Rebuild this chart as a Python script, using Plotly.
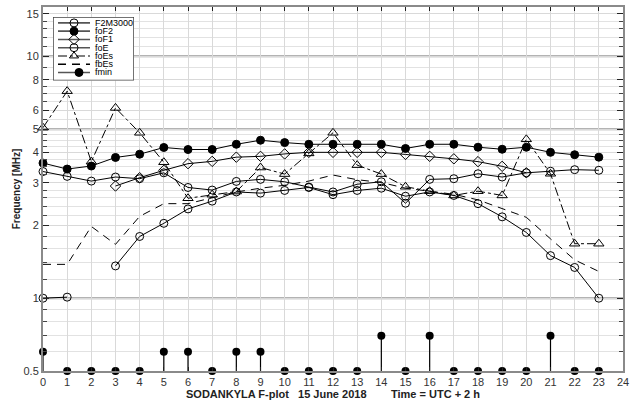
import math
import plotly.graph_objects as go

hours = list(range(24))

F2M3000 = [3.34, 3.19, 3.05, 3.17, 3.12, 3.30, 2.87, 2.80, 3.04, 3.10, 3.03, 2.88,
           2.75, 2.96, 3.03, 2.47, 3.10, 3.12, 3.27, 3.17, 3.30, 3.35, 3.40, 3.38]
foF2 = [3.62, 3.42, 3.52, 3.82, 3.94, 4.20, 4.12, 4.12, 4.33, 4.50, 4.40, 4.33,
        4.33, 4.33, 4.33, 4.16, 4.33, 4.33, 4.21, 4.13, 4.21, 4.01, 3.92, 3.83]
foF1 = [None, None, None, 2.91, 3.15, 3.38, 3.60, 3.68, 3.83, 3.86, 3.95, 4.01,
        4.01, 4.01, 4.01, 3.93, 3.86, 3.77, 3.67, 3.51, 3.30, None, None, None]
foE = [1.00, 1.01, None, 1.36, 1.80, 2.04, 2.34, 2.52, 2.75, 2.72, 2.79, 2.87,
       2.68, 2.79, 2.85, 2.64, 2.75, 2.66, 2.46, 2.17, 1.87, 1.50, 1.34, 1.00]
foEs = [5.07, 7.18, 3.67, 6.12, 4.83, 3.65, 2.59, 2.68, 2.76, 3.47, 3.26, 3.97,
        4.83, 3.55, 3.26, 2.89, 2.77, 2.66, 2.77, 2.66, 4.54, 3.27, 1.68, 1.68]
fbEs = [1.38, 1.38, 1.98, 1.67, 2.18, 2.46, 2.46, 2.60, 2.75, 2.85, 2.93, 3.05,
        3.23, 3.09, 3.01, 2.85, 2.77, 2.69, 2.55, 2.35, 2.16, 1.76, 1.44, 1.29]
fmin = [0.6, 0.5, 0.5, 0.5, 0.5, 0.6, 0.6, 0.5, 0.6, 0.6, 0.5, 0.5,
        0.5, 0.5, 0.7, 0.5, 0.7, 0.5, 0.5, 0.5, 0.5, 0.7, 0.5, 0.5]

x_ticks = list(range(25))
y_ticks = [0.5, 1, 2, 3, 4, 5, 6, 8, 10, 15]
y_minor = [0.6, 0.7, 0.8, 0.9, 1.2, 1.4, 1.6, 1.8, 2.2, 2.4, 2.6, 2.8,
           3.25, 3.5, 3.75, 4.25, 4.5, 4.75, 5.5, 6.5, 7, 7.5, 9, 11, 12, 13, 14]
y_strong = [1, 5, 10]
y_min, y_max = 0.5, 16
fmin_base = 0.5

FONT = "Liberation Sans, Arial, sans-serif"

series = [
    ("F2M3000", F2M3000, "solid", "circle-open"),
    ("foF2", foF2, "solid", "circle"),
    ("foF1", foF1, "solid", "diamond-open"),
    ("foE", foE, "solid", "circle-open"),
    ("foEs", foEs, "dashdot", "triangle-up-open"),
    ("fbEs", fbEs, "dash", None),
]

fig = go.Figure()

for name, vals, dash, sym in series:
    fig.add_trace(go.Scatter(
        x=hours, y=vals, name=name,
        mode="lines+markers" if sym else "lines",
        line=dict(color="black", width=1, dash=dash if dash != "dash" else "8px,6px"),
        marker=dict(symbol=sym or "circle", size=8 if sym != "triangle-up-open" else 9,
                    color="black", line=dict(width=1, color="black")),
        cliponaxis=False, showlegend=False, xaxis="x", yaxis="y",
    ))

fig.add_trace(go.Scatter(
    x=hours, y=fmin, name="fmin", mode="markers",
    marker=dict(symbol="circle", size=8, color="black"),
    error_y=dict(type="data", symmetric=False, array=[0] * len(fmin),
                 arrayminus=[v - fmin_base for v in fmin], width=0,
                 thickness=1.2, color="black"),
    cliponaxis=False, showlegend=False,
))

# Compact legend drawn on an auxiliary axis (pixel-like units) inside the box
legend_items = [(s[0], s[2], s[3]) for s in series] + [("fmin", "solid", "circle")]
row0, row_step = 21, 8.3
for i, (name, dash, sym) in enumerate(legend_items):
    ry = row0 + i * row_step
    fig.add_trace(go.Scatter(
        x=[58, 90], y=[ry, ry], mode="lines", xaxis="x2", yaxis="y2",
        line=dict(color="#555" if name != "fbEs" else "black", width=1.6,
                  dash=dash if dash != "dash" else "8px,6px"),
        showlegend=False, hoverinfo="skip", cliponaxis=False,
    ))
    if sym:
        fig.add_trace(go.Scatter(
            x=[74 if name != "fmin" else 79], y=[ry], mode="markers", xaxis="x2", yaxis="y2",
            marker=dict(symbol=sym, size=8, color="black", line=dict(width=1, color="black")),
            showlegend=False, hoverinfo="skip", cliponaxis=False,
        ))
    fig.add_annotation(x=93, y=ry, xref="x2", yref="y2", text=name, showarrow=False,
                       xanchor="left", yanchor="middle",
                       font=dict(family=FONT, size=9, color="black"))

L, R, T, B = 43, 17, 5, 39
W, H = 640, 410
pw, ph = W - L - R, H - T - B

def px2x(px):
    return (px - L) / pw

def py2y(py):
    return (H - B - py) / ph

box = (53, 15, 134, 79)

fig.add_shape(type="rect", xref="x2", yref="y2",
              x0=box[0], x1=box[2], y0=box[3], y1=box[1],
              line=dict(color="#444", width=1.5), fillcolor="white", layer="below")

for v in y_strong:
    fig.add_shape(type="line", xref="x domain", yref="y", x0=0, x1=1, y0=v, y1=v,
                  line=dict(color="#9a9a9a", width=2), layer="below")

fig.update_layout(
    width=W, height=H,
    margin=dict(l=L, r=R, t=T, b=B, pad=0),
    paper_bgcolor="white", plot_bgcolor="white",
    font=dict(family=FONT, size=11, color="#333"),
    xaxis=dict(
        range=[0, 24], tickvals=x_ticks, ticktext=[str(t) for t in x_ticks],
        showgrid=True, gridcolor="#d9d9d9", gridwidth=1,
        showline=True, linecolor="#8a8a8a", linewidth=2, mirror="ticks",
        ticks="inside", ticklen=4, tickcolor="#222", tickwidth=1,
        zeroline=False, tickfont=dict(size=11, color="#333"),
        title=dict(text="<b>SODANKYLA F-plot\u00a0\u00a0\u00a015 June 2018\u00a0\u00a0\u00a0\u00a0\u00a0\u00a0\u00a0\u00a0Time = UTC + 2 h</b>",
                   font=dict(size=11, color="#222"), standoff=3),
    ),
    yaxis=dict(
        type="log", range=[math.log10(y_min), math.log10(y_max)],
        tickvals=y_ticks, ticktext=[str(t) for t in y_ticks],
        showgrid=True, gridcolor="#d9d9d9", gridwidth=1,
        showline=True, linecolor="#8a8a8a", linewidth=2, mirror="ticks",
        ticks="inside", ticklen=6, tickcolor="#222", tickwidth=1,
        zeroline=False, tickfont=dict(size=11, color="#333"),
        minor=dict(tickvals=y_minor, showgrid=True, gridcolor="#e2e2e2", gridwidth=1,
                   ticks="inside", ticklen=4, tickcolor="#444"),
        title=dict(text="<b>Frequency [MHz]</b>", font=dict(size=10, color="#222"), standoff=1),
    ),
    xaxis2=dict(domain=[px2x(box[0]), px2x(box[2])], range=[box[0], box[2]],
                visible=False, anchor="y2", fixedrange=True),
    yaxis2=dict(domain=[py2y(box[3]), py2y(box[1])], range=[box[3], box[1]],
                visible=False, anchor="x2", fixedrange=True),
    showlegend=False,
)

fig.write_html("out.html")
